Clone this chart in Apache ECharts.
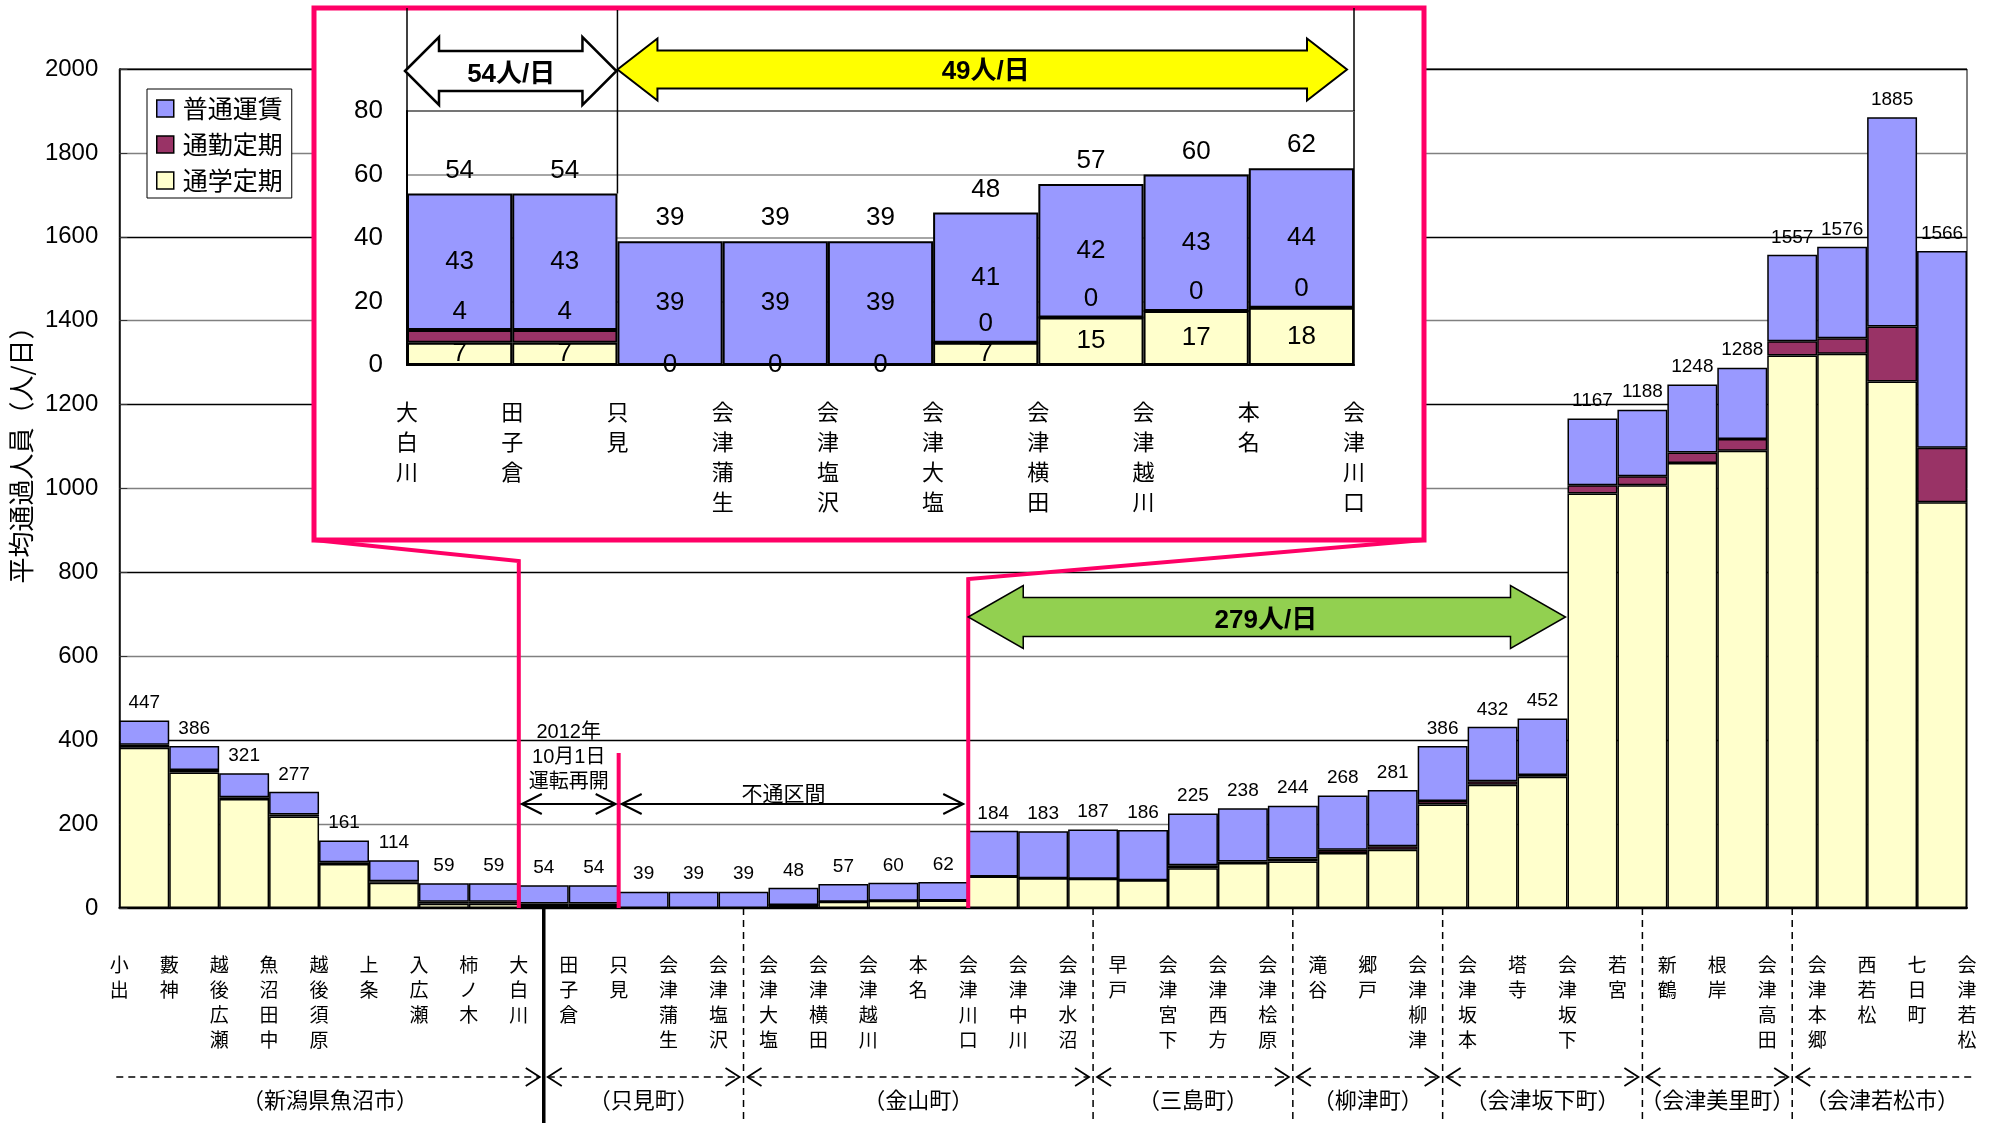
<!DOCTYPE html>
<html><head><meta charset="utf-8">
<script src="https://cdn.jsdelivr.net/npm/echarts@6/dist/echarts.min.js"></script>
<style>html,body{margin:0;padding:0;background:#fff}#c{width:1990px;height:1123px}</style>
</head><body><div id="c"></div>
<script>
// ---------- data ----------
const stations = ['小出','藪神','越後広瀬','魚沼田中','越後須原','上条','入広瀬','柿ノ木','大白川','田子倉','只見','会津蒲生','会津塩沢','会津大塩','会津横田','会津越川','本名','会津川口','会津中川','会津水沼','早戸','会津宮下','会津西方','会津桧原','滝谷','郷戸','会津柳津','会津坂本','塔寺','会津坂下','若宮','新鶴','根岸','会津高田','会津本郷','西若松','七日町','会津若松'];
const totals   = [447,386,321,277,161,114,59,59,54,54,39,39,39,48,57,60,62,184,183,187,186,225,238,244,268,281,386,432,452,1167,1188,1248,1288,1557,1576,1885,1566];
const school   = [382,323,260,218,105,60,10,10,7,7,0,0,0,7,15,17,18,75,71,70,66,95,107,111,131,139,247,294,313,988,1008,1061,1090,1317,1321,1255,967];
const commuter = [7,6,4,5,4,4,5,5,4,4,0,0,0,0,0,0,0,0,0,0,0,7,4,7,8,8,8,8,4,20,21,25,28,34,37,131,130];
const regular  = [58,57,57,54,52,50,44,44,43,43,39,39,39,41,42,43,44,109,112,117,120,123,127,126,129,134,131,130,135,159,159,162,170,206,218,499,469];
const yTicks = [0,200,400,600,800,1000,1200,1400,1600,1800,2000];

const insetStations = ['大白川','田子倉','只見','会津蒲生','会津塩沢','会津大塩','会津横田','会津越川','本名','会津川口'];
const insetRegular  = [43,43,39,39,39,41,42,43,44];
const insetCommuter = [4,4,null,null,null,0,0,0,0];
const insetSchool   = [7,7,0,0,0,7,15,17,18];
const insetTotals   = [54,54,39,39,39,48,57,60,62];
const insetTicks = [0,20,40,60,80];

const regionNames = ['（新潟県魚沼市）','（只見町）','（金山町）','（三島町）','（柳津町）','（会津坂下町）','（会津美里町）','（会津若松市）'];
const regionBorderBars = [8,12,19,23,26,30,33]; // section index whose centre is a municipal border
const prefBorderBar = 8;

const sections = stations.slice(0,-1).map((s,i)=> s + '-' + stations[i+1]);
const insetSections = insetStations.slice(0,-1).map((s,i)=> s + '-' + insetStations[i+1]);

// ---------- styles ----------
const NUM = "'Liberation Sans', 'Noto Sans CJK JP', sans-serif";
const CJK = "'Noto Sans CJK JP', sans-serif";
const C_REG = '#9999FF', C_COM = '#993366', C_SCH = '#FFFFCC';
const PINK = '#FF0066';
const vert = s => s.split('').join('\n');
const plain = v => String(v);

function stackSeries(name, data, color, xi, yi, stack, label, z) {
  return {name, type:'bar', stack, data, xAxisIndex:xi, yAxisIndex:yi, barWidth:'100%', barGap:'-100%',
    itemStyle:{color, borderColor:'#000', borderWidth: xi===0?1.5:2}, label: label || {show:false},
    z: z||2, silent:true, emphasis:{disabled:true}};
}

const option = {
  animation:false,
  backgroundColor:'#fff',
  textStyle:{fontFamily:NUM},
  legend:{
    data:['普通運賃','通勤定期','通学定期'], orient:'vertical', left:147, top:89,
    backgroundColor:'#fff', borderColor:'#000', borderWidth:1, padding:[7,9,5,9], itemGap:11,
    itemWidth:17, itemHeight:17, icon:'rect',
    itemStyle:{borderColor:'#000', borderWidth:1.5},
    textStyle:{fontFamily:CJK, fontSize:25, color:'#000', lineHeight:25, padding:[0,0,0,4]},
    z:6
  },
  grid:[
    {left:117, top:69, width:1850, height:839, show:true, borderColor:'#000', borderWidth:1},
    {left:407, top:111, width:947, height:254, show:true, borderColor:'#000', borderWidth:1.5, z:3}
  ],
  xAxis:[
    {type:'category', gridIndex:0, data:sections, position:'bottom',
     axisLine:{lineStyle:{color:'#000', width:2}}, axisTick:{show:false}, axisLabel:{show:false}},
    {type:'category', gridIndex:0, data:stations, position:'bottom', boundaryGap:false,
     axisLine:{show:false}, axisTick:{show:false},
     axisLabel:{interval:0, formatter:vert, fontFamily:CJK, fontSize:19, lineHeight:25, margin:44, color:'#000', verticalAlign:'top'}},
    {type:'category', gridIndex:1, data:insetSections, position:'bottom', z:3,
     axisLine:{lineStyle:{color:'#000', width:2}}, axisTick:{show:false}, axisLabel:{show:false}},
    {type:'category', gridIndex:1, data:insetStations, position:'bottom', boundaryGap:false, z:3,
     axisLine:{show:false}, axisTick:{show:false},
     axisLabel:{interval:0, formatter:vert, fontFamily:CJK, fontSize:22, lineHeight:30, margin:32, color:'#000', verticalAlign:'top'}}
  ],
  yAxis:[
    {type:'value', gridIndex:0, min:yTicks[0], max:yTicks[yTicks.length-1], interval:200,
     name:'平均通過人員（人/日）', nameLocation:'middle', nameRotate:90, nameGap:84,
     nameTextStyle:{fontFamily:CJK, fontSize:26, color:'#000', padding:[0,0,0,80]},
     axisLine:{show:true, lineStyle:{color:'#000', width:1.5}},
     axisTick:{show:true, inside:true, length:8, lineStyle:{color:'#333'}},
     axisLabel:{fontSize:24, margin:21, color:'#000', fontFamily:NUM, formatter:plain},
     splitLine:{show:true, lineStyle:{color:['#000','#808080'], width:1.3}}},
    {type:'value', gridIndex:1, min:insetTicks[0], max:insetTicks[insetTicks.length-1], interval:20, z:3,
     axisLine:{show:true, lineStyle:{color:'#000', width:2}},
     axisTick:{show:false},
     axisLabel:{fontSize:26, margin:24, color:'#000', fontFamily:NUM, formatter:plain},
     splitLine:{show:true, lineStyle:{color:'#888', width:1.5}}}
  ],
  series:[
    stackSeries('通学定期', school, C_SCH, 0, 0, 'main'),
    stackSeries('通勤定期', commuter, C_COM, 0, 0, 'main'),
    stackSeries('普通運賃', regular, C_REG, 0, 0, 'main'),
    {name:'合計', type:'bar', data:totals, xAxisIndex:0, yAxisIndex:0, barWidth:'100%', barGap:'-100%',
     itemStyle:{color:'rgba(0,0,0,0)'}, silent:true, z:3,
     label:{show:true, position:'top', distance:8, fontSize:19, color:'#000', fontFamily:NUM}},
    stackSeries('通学定期', insetSchool, C_SCH, 2, 1, 'inset',
      {show:true, position:'inside', fontSize:26, color:'#000', fontFamily:NUM}, 4),
    stackSeries('通勤定期', insetCommuter, C_COM, 2, 1, 'inset',
      {show:true, position:'top', distance:5, fontSize:26, color:'#000', fontFamily:NUM}, 4),
    stackSeries('普通運賃', insetRegular, C_REG, 2, 1, 'inset',
      {show:true, position:'inside', fontSize:26, color:'#000', fontFamily:NUM}, 4),
    {name:'合計 ', type:'bar', data:insetTotals, xAxisIndex:2, yAxisIndex:1, barWidth:'100%', barGap:'-100%',
     itemStyle:{color:'rgba(0,0,0,0)'}, silent:true, z:5,
     label:{show:true, position:'top', distance:10, fontSize:26, color:'#000', fontFamily:NUM}}
  ]
};

const chart = echarts.init(document.getElementById('c'));
chart.setOption(option);

// ---------- annotations ----------
const px = (ax, v) => chart.convertToPixel({xAxisIndex:ax}, v);
const py = (ax, v) => chart.convertToPixel({yAxisIndex:ax}, v);
const y0 = py(0, 0);
const g = [];
function line(points, stroke, lw, z, dash) {
  g.push({type:'polyline', shape:{points}, style:{stroke, lineWidth:lw, fill:null, lineDash:dash||null}, z, silent:true});
}
function text(x, y, t, size, opts) {
  g.push({type:'text', x, y, z:(opts&&opts.z)||12, silent:true,
    style:Object.assign({text:t, fill:'#000', fontSize:size, fontFamily:CJK, align:'center', verticalAlign:'middle'}, opts&&opts.style)});
}
function chev(x, y, dir, len, half, lw, z) {
  line([[x-dir*len, y-half],[x, y],[x-dir*len, y+half]], '#000', lw, z);
}
function blockArrow(xL, xR, cy, B, H, h, fill, lw, z) {
  g.push({type:'polygon', z, silent:true, shape:{points:[
    [xL,cy],[xL+h,cy-H],[xL+h,cy-B],[xR-h,cy-B],[xR-h,cy-H],[xR,cy],[xR-h,cy+H],[xR-h,cy+B],[xL+h,cy+B],[xL+h,cy+H]]},
    style:{fill, stroke:'#000', lineWidth:lw, lineJoin:'miter'}});
}

// inset frame
g.push({type:'rect', z:1, silent:true, shape:{x:314, y:8, width:1110, height:532}, style:{fill:'#fff', stroke:PINK, lineWidth:5}});

const xOshira = px(1,'大白川'), xTadami = px(1,'只見'), xKawaguchi = px(1,'会津川口'), xBange = px(1,'会津坂下');
// pink connectors
line([[314,540],[xOshira,561],[xOshira,y0]], PINK, 4, 10);
line([[1424,540],[xKawaguchi,579],[xKawaguchi,y0]], PINK, 4, 10);
line([[xTadami,753],[xTadami,y0]], PINK, 4, 10);

// prefecture border & municipal borders
const xPref = px(0, sections[prefBorderBar]);
line([[xPref,y0],[xPref,1123]], '#000', 3.5, 10);
const borderX = regionBorderBars.map(b => px(0, sections[b]));
borderX.forEach((x,i) => { if (regionBorderBars[i] !== prefBorderBar) line([[x,y0],[x,1123]], '#000', 1.5, 10, [7,5]); });

// region arrows
const ry = 1077;
const xStart = px(1, stations[0]) - 3, xEnd = 1972;
regionNames.forEach((nm, k) => {
  const L = k===0 ? xStart : borderX[k-1];
  const R = k===regionNames.length-1 ? xEnd : borderX[k];
  const l = k===0 ? L : L+4, r = k===regionNames.length-1 ? R : R-4;
  line([[l,ry],[r,ry]], '#000', 1.5, 10, [7,5]);
  if (k>0) chev(l, ry, -1, 14, 9, 1.8, 10);
  if (k<regionNames.length-1) chev(r, ry, 1, 14, 9, 1.8, 10);
  text((L+R)/2, 1100, nm, 22);
});

// reopening annotation
const ay = 804;
text((xOshira+xTadami)/2, 757, '2012年\n10月1日\n運転再開', 20, {style:{lineHeight:25, fontFamily:NUM}});
line([[xOshira+3,ay],[xTadami-3,ay]], '#000', 2, 11);
chev(xOshira+3, ay, -1, 20, 10, 2, 11); chev(xTadami-3, ay, 1, 20, 10, 2, 11);
line([[xTadami+3,ay],[xKawaguchi-5,ay]], '#000', 2, 11);
chev(xTadami+3, ay, -1, 20, 10, 2, 11); chev(xKawaguchi-5, ay, 1, 20, 10, 2, 11);
text((xTadami+xKawaguchi)/2 - 10, 793, '不通区間', 21);

// green arrow
blockArrow(xKawaguchi, xBange-2, 617, 19.5, 31.5, 55, '#92D050', 1.5, 11);
text((xKawaguchi+xBange)/2 - 2, 621, '279人/日', 26, {style:{fontWeight:'bold', fontFamily:NUM}});

// inset arrows
const ixA = px(3,'大白川'), ixT = px(3,'只見'), ixK = px(3,'会津川口');
const iTop = py(1, insetTicks[insetTicks.length-1]);
line([[ixA,8],[ixA,iTop]], '#000', 1.5, 6);
line([[ixT,10],[ixT,py(1,insetTotals[1])]], '#000', 1.5, 6);
line([[ixK,8],[ixK,iTop]], '#000', 1.5, 6);
blockArrow(ixA-2, ixT-1, 71, 20, 34, 34, '#fff', 2.5, 7);
blockArrow(ixT, ixK-7, 69.5, 19, 31, 40, '#FFFF00', 2, 7);
text((ixA+ixT)/2 - 1, 75, '54人/日', 26, {style:{fontWeight:'bold', fontFamily:NUM}});
text((ixT+ixK)/2, 72, '49人/日', 26, {style:{fontWeight:'bold', fontFamily:NUM}});

chart.setOption({graphic:{elements:g}});
</script>
</body></html>
